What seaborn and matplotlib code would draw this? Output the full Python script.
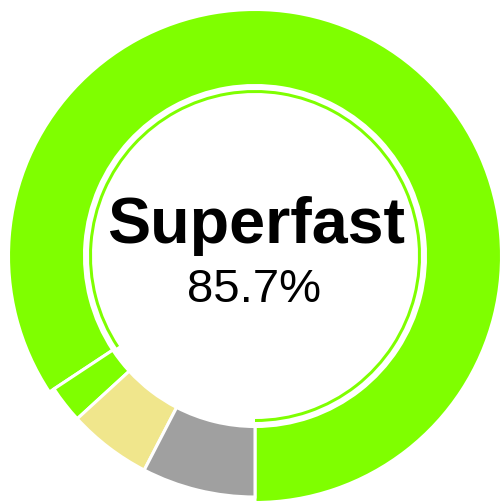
import matplotlib
matplotlib.use("Agg")
import matplotlib.pyplot as plt
import seaborn as sns

categories = ["Superfast", "Fast", "Medium", "Slow"]
values = [84.3, 2.5, 5.6, 7.6]
colors = ["#7FFF00", "#7FFF00", "#F0E68C", "#A0A0A0"]
center_label = "Superfast"
center_value = "85.7%"

sns.set_theme(style="white")
plt.rcParams['font.family'] = ['Liberation Sans', 'DejaVu Sans']

fig = plt.figure(figsize=(5.02, 5.01), dpi=100)
ax = fig.add_axes([0, 0, 1, 1])

cx, cy = 255.0, 501 - 256
r_out, r_in = 241.0, 170.5
r_out_hi = 246.5

wedges, _ = ax.pie(values, colors=colors, startangle=-90, counterclock=True,
                   radius=r_out, center=(cx, cy),
                   wedgeprops=dict(width=r_out - r_in, edgecolor="white", linewidth=2.2))
# highlighted (largest) slice drawn slightly larger
wedges[0].set_radius(r_out_hi)
wedges[0].set_width(r_out_hi - r_in)

# thin highlight ring inside the largest slice
ring_colors = [colors[0]] + ["none"] * (len(values) - 1)
ring, _ = ax.pie(values, colors=ring_colors, startangle=-90, counterclock=True,
                 radius=166.0, center=(cx, cy),
                 wedgeprops=dict(width=3.0, edgecolor="none", linewidth=0))

ax.text(256.5, 501 - 243, center_label, ha="center", va="baseline",
        fontsize=46.5, fontweight="bold", color="black")
ax.text(254, 501 - 302, center_value, ha="center", va="baseline",
        fontsize=34, color="black")

ax.set_xlim(0, 502)
ax.set_ylim(0, 501)
ax.set_aspect("auto")
ax.axis("off")
fig.savefig("out.png", dpi=100, facecolor="white")
